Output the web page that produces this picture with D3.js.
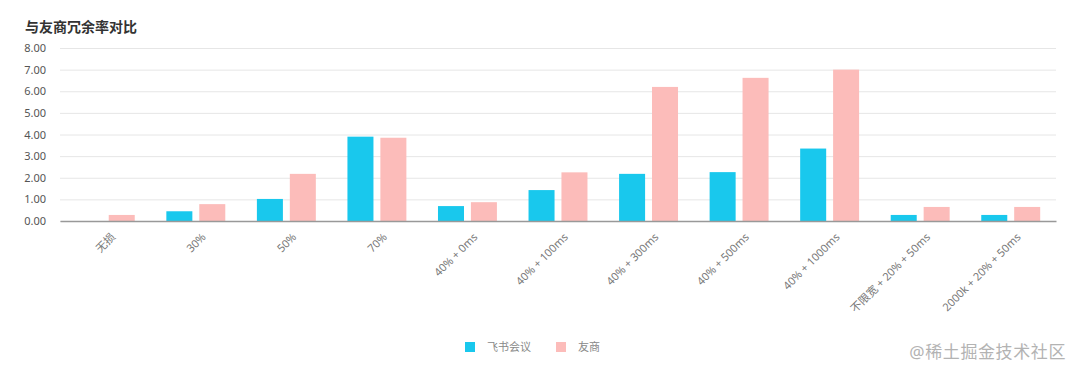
<!DOCTYPE html>
<html lang="zh">
<head>
  <meta charset="UTF-8">
  <title>与友商冗余率对比</title>
  <script src="https://d3js.org/d3.v7.min.js"></script>
  <style>
    body { margin: 0; background: #fff; }
    svg text { font-family: "Noto Sans", "Noto Sans CJK SC", sans-serif; }
  </style>
</head>
<body>
  <div id="chart"></div>

  <script>
    // datos del grafico
    const categorias = ["无损", "30%", "50%", "70%", "40% + 0ms", "40% + 100ms", "40% + 300ms",
      "40% + 500ms", "40% + 1000ms", "不限宽 + 20% + 50ms", "2000k + 20% + 50ms"];
    const series = ["飞书会议", "友商"];
    const feishu = [0, 0.45, 1.02, 3.9, 0.69, 1.43, 2.18, 2.26, 3.35, 0.28, 0.28];
    const youshang = [0.28, 0.78, 2.18, 3.85, 0.87, 2.25, 6.2, 6.62, 7.0, 0.65, 0.65];
    const ticksY = [0, 1, 2, 3, 4, 5, 6, 7, 8];
    const colores = ["#19c8ed", "#fcbcba"];

    const ancho = 1080, alto = 375;
    const margen = { superior: 48, derecho: 24, inferior: 154, izquierdo: 60 };
    const anchoGrafico = ancho - margen.izquierdo - margen.derecho;
    const altoGrafico = alto - margen.superior - margen.inferior;

    const svg = d3.select("#chart").append("svg")
      .attr("width", ancho)
      .attr("height", alto);

    svg.append("text")
      .attr("x", 25).attr("y", 32)
      .attr("font-size", 14).attr("font-weight", "bold")
      .attr("fill", "#333")
      .text("与友商冗余率对比");

    const g = svg.append("g")
      .attr("transform", `translate(${margen.izquierdo}, ${margen.superior})`);

    const x0 = d3.scaleBand().domain(categorias).range([0, anchoGrafico]);
    const x1 = d3.scaleBand().domain(series).range([0, x0.bandwidth()])
      .paddingInner(0.21).paddingOuter(0.48);
    const y = d3.scaleLinear().domain([0, 8]).range([altoGrafico, 0]);

    // lineas de grilla + etiquetas Y
    const ejeY = g.append("g")
      .call(d3.axisLeft(y).tickValues(ticksY).tickFormat(d3.format(".2f"))
        .tickSize(-anchoGrafico).tickPadding(14));
    ejeY.select(".domain").remove();
    ejeY.selectAll(".tick line").attr("stroke", "#e6e6e6");
    ejeY.selectAll(".tick text").attr("fill", "#555").attr("font-size", 11);

    const datos = categorias.map((c, i) => ({ cat: c, valores: [feishu[i], youshang[i]] }));

    const grupos = g.selectAll(".grupo").data(datos).enter()
      .append("g")
      .attr("transform", (d) => `translate(${x0(d.cat)},0)`);

    grupos.selectAll("rect")
      .data((d) => d.valores.map((v, j) => ({ serie: series[j], v: v, j: j })))
      .enter().append("rect")
      .attr("x", (d) => x1(d.serie))
      .attr("y", (d) => y(d.v))
      .attr("width", x1.bandwidth())
      .attr("height", (d) => altoGrafico - y(d.v))
      .attr("fill", (d) => colores[d.j]);

    // eje X
    const ejeX = g.append("g")
      .attr("transform", `translate(0, ${altoGrafico})`)
      .call(d3.axisBottom(x0).tickSize(0).tickPadding(0));
    ejeX.select(".domain").attr("stroke", "#999").attr("stroke-width", 1.5);
    ejeX.selectAll(".tick text")
      .attr("fill", "#777").attr("font-size", 11)
      .attr("text-anchor", "end")
      .attr("dy", "0.35em")
      .attr("transform", "translate(8, 14) rotate(-45)");

    // leyenda
    const leyenda = svg.append("g").attr("transform", "translate(465, 342)");
    const itemX = [0, 91];
    series.forEach((s, i) => {
      const it = leyenda.append("g").attr("transform", `translate(${itemX[i]}, 0)`);
      it.append("rect").attr("width", 10).attr("height", 10).attr("fill", colores[i]);
      it.append("text").attr("x", 22).attr("y", 9)
        .attr("font-size", 11).attr("fill", "#888").text(s);
    });

    svg.append("text")
      .attr("x", 1066).attr("y", 358)
      .attr("text-anchor", "end")
      .attr("font-size", 17).attr("letter-spacing", 0.6).attr("fill", "#b3b3b3")
      .text("@稀土掘金技术社区");
  </script>
</body>
</html>
